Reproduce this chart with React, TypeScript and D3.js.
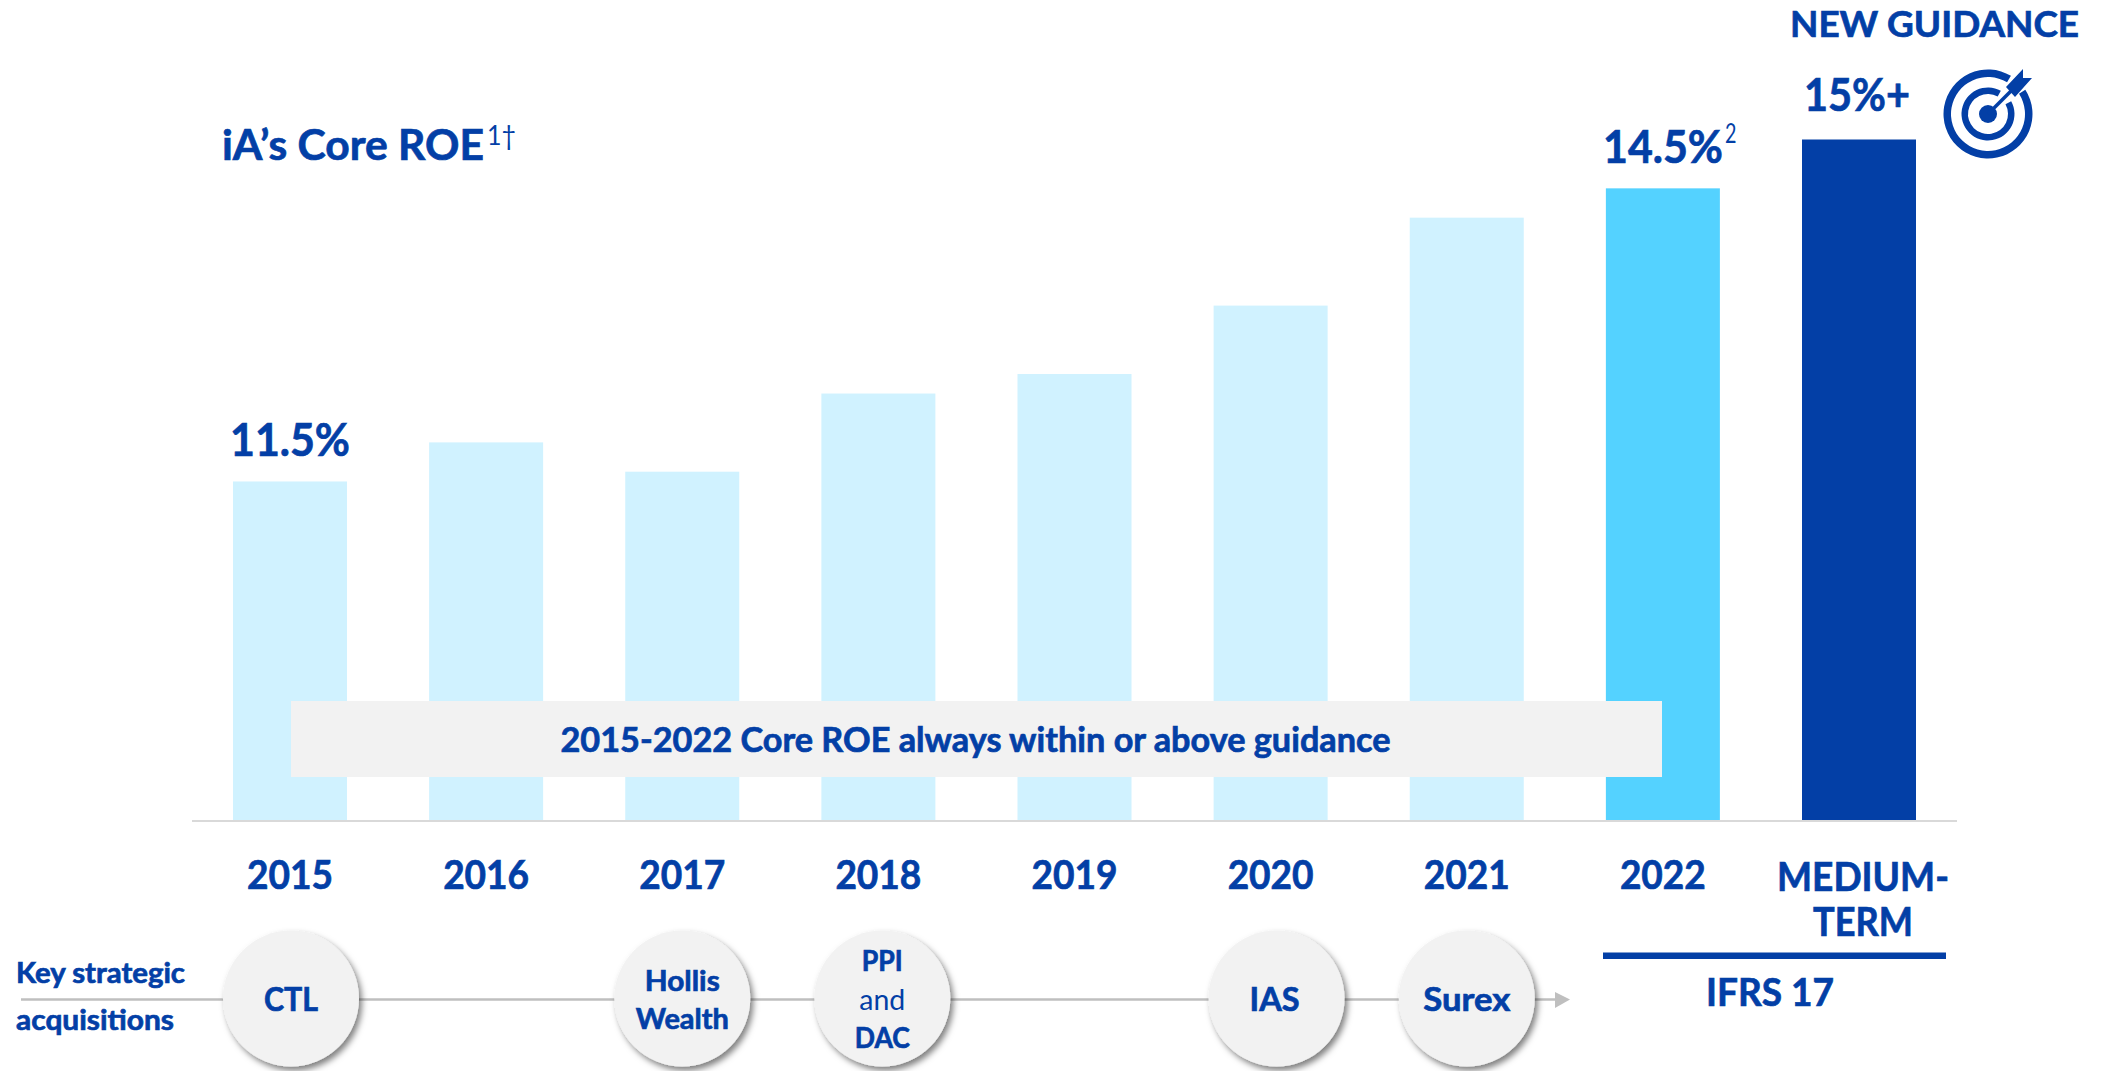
import React from "react";
import * as d3 from "d3";

const categories = ["2015", "2016", "2017", "2018", "2019", "2020", "2021", "2022", "MEDIUM-TERM"];
const roeValues = [11.5, 11.9, 11.6, 12.4, 12.6, 13.3, 14.2, 14.5, 15];
const acquisitionNames = ["CTL", "Hollis Wealth", "PPI and DAC", "IAS", "Surex"];
const acquisitionYears = [2015.005, 2017, 2018.02, 2020.03, 2021];

const W = 2103, H = 1071;
const BLUE = "#033fa6", LIGHT = "#d0f2ff", MID = "#54d2ff", GRID = "#d9d9d9", LINE = "#bfbfbf", PANEL = "#f2f2f2";
const FONT = "Lato, 'Open Sans', sans-serif";

const y = d3.scaleLinear().domain([8.03, 15]).range([820.5, 139.5]);
const yearX = d3.scaleLinear().domain([2015, 2023]).range([290, 1859]);
const barX = (i: number) => yearX(2015 + i) - 57;
const colorOf = (i: number) => (i < 7 ? LIGHT : i === 7 ? MID : BLUE);

type TProps = { x: number; y: number; w: number; size: number; anchor?: string; weight?: number; children: React.ReactNode };
function T({ x, y, w, size, anchor = "middle", weight = 700, children }: TProps) {
  return (
    <text x={x} y={y} fontSize={size} fontWeight={weight} textAnchor={anchor} fill={BLUE} fontFamily={FONT}
      stroke={weight >= 700 ? BLUE : "none"} strokeWidth={weight >= 700 ? 0.7 : 0}
      textLength={w} lengthAdjust="spacingAndGlyphs">{children}</text>
  );
}

const arcGen = d3.arc();
const deg = (a: number) => (a * Math.PI) / 180;

function Target({ cx, cy }: { cx: number; cy: number }) {
  const outer = arcGen({ innerRadius: 37, outerRadius: 44.5, startAngle: deg(57), endAngle: deg(391) } as any) as string;
  const mid = arcGen({ innerRadius: 20, outerRadius: 26.5, startAngle: deg(61), endAngle: deg(389) } as any) as string;
  return (
    <g transform={`translate(${cx},${cy})`} fill={BLUE}>
      <path d={outer} />
      <path d={mid} />
      <circle r={9} />
      <line x1={0} y1={0} x2={26} y2={-26} stroke={BLUE} strokeWidth={3.5} />
      <path d="M18,-27 L35,-45 L35,-36 L44,-36 L27,-17 Z" />
    </g>
  );
}

export default function App() {
  const line1 = 21, lineEnd = 1557, lineY = 999.5;
  const cy = 998.5;
  const labels = [
    [{ t: "CTL", y: 1011, w: 54, s: 33 }],
    [{ t: "Hollis", y: 991, w: 75, s: 29 }, { t: "Wealth", y: 1029, w: 93, s: 29 }],
    [{ t: "PPI", y: 971, w: 41, s: 29 }, { t: "and", y: 1010, w: 46, s: 29, weight: 400 }, { t: "DAC", y: 1048, w: 55, s: 29 }],
    [{ t: "IAS", y: 1011, w: 50, s: 33, dx: -2 }],
    [{ t: "Surex", y: 1011, w: 87, s: 33 }],
  ];
  return (
    <svg width={W} height={H} viewBox={`0 0 ${W} ${H}`} style={{ position: "absolute", left: 0, top: 0, display: "block", background: "#fff" }}>
      <defs>
        <filter id="sh" x="-20%" y="-20%" width="150%" height="150%">
          <feDropShadow dx={3} dy={4} stdDeviation={3} floodColor="#000" floodOpacity={0.5} />
        </filter>
      </defs>

      {categories.map((c, i) => (
        <rect key={c} x={barX(i)} width={114} y={y(roeValues[i])} height={820.5 - y(roeValues[i])} fill={colorOf(i)} />
      ))}
      <line x1={192} x2={1957} y1={821} y2={821} stroke={GRID} strokeWidth={2} />

      <rect x={291} y={701} width={1371} height={76} fill={PANEL} />
      <T x={975.5} y={752} w={830} size={34}>2015-2022 Core ROE always within or above guidance</T>

      <T x={222} y={160} w={262} size={42} anchor="start">iA’s Core ROE</T>
      <T x={487} y={145} w={29} size={26} anchor="start" weight={400}>1†</T>

      <T x={290} y={456} w={120} size={45}>{roeValues[0].toFixed(1)}%</T>
      <T x={1603} y={163} w={120} size={45} anchor="start">{roeValues[7].toFixed(1)}%</T>
      <T x={1725} y={143} w={11.5} size={26} anchor="start" weight={400}>2</T>
      <T x={1804} y={111} w={106} size={45} anchor="start">{roeValues[8]}%+</T>
      <T x={1790} y={36.5} w={289} size={36} anchor="start">NEW GUIDANCE</T>
      <Target cx={1988} cy={114} />

      {categories.slice(0, 8).map((c, i) => (
        <T key={c} x={yearX(2015 + i)} y={889} w={86} size={40}>{c}</T>
      ))}
      <T x={1863} y={891} w={172} size={40}>MEDIUM-</T>
      <T x={1863} y={936} w={100} size={40}>TERM</T>

      <rect x={1603} y={952.5} width={343} height={6.5} fill={BLUE} />
      <T x={1770} y={1006} w={128} size={39}>IFRS 17</T>

      <line x1={line1} x2={lineEnd} y1={lineY} y2={lineY} stroke={LINE} strokeWidth={2.5} />
      <path d={`M1555,992 L1570,${lineY} L1555,1008 Z`} fill={LINE} />

      <T x={16} y={983} w={169} size={29} anchor="start">Key strategic</T>
      <T x={16} y={1030} w={158} size={29} anchor="start">acquisitions</T>

      {acquisitionNames.map((n, i) => (
        <g key={n}>
          <circle cx={yearX(acquisitionYears[i])} cy={cy} r={68} fill={PANEL} filter="url(#sh)" />
          {labels[i].map((l: any) => (
            <T key={l.t} x={yearX(acquisitionYears[i]) + (l.dx ?? 0)} y={l.y} w={l.w} size={l.s} weight={l.weight ?? 700}>{l.t}</T>
          ))}
        </g>
      ))}
    </svg>
  );
}
